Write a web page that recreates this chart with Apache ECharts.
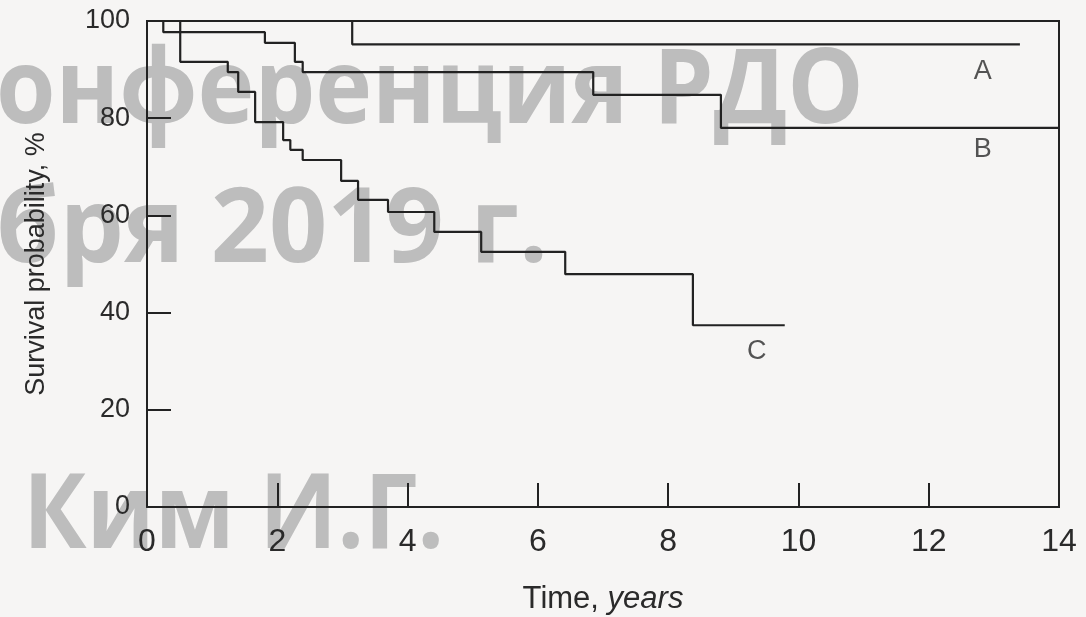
<!DOCTYPE html>
<html>
<head>
<meta charset="utf-8">
<script src="https://cdn.jsdelivr.net/npm/echarts@6/dist/echarts.min.js"></script>
<style>
html,body{margin:0;padding:0;background:#f6f5f4;}
#chart{width:1086px;height:617px;}
</style>
</head>
<body>
<div id="chart"></div>
<script>
// Kaplan-Meier step data (time in years, survival %)
const aTimes = [0, 3.15, 13.4];
const aSurv  = [100, 95.2, 95.2];
const bTimes = [0, 0.25, 1.81, 2.27, 2.39, 6.85, 8.81, 14];
const bSurv  = [100, 97.7, 95.5, 91.6, 89.5, 84.8, 78.0, 78.0];
const cTimes = [0, 0.51, 1.24, 1.40, 1.66, 2.09, 2.20, 2.39, 2.98, 3.24, 3.70, 4.41, 5.13, 6.42, 8.38, 9.79];
const cSurv  = [100, 91.6, 89.5, 85.4, 79.2, 75.5, 73.5, 71.4, 67.1, 63.2, 60.7, 56.6, 52.5, 47.9, 37.4, 37.4];
const curveNames = ['A', 'B', 'C'];
const labelTimes = [12.83, 12.83, 9.36];
const labelSurv  = [89.5, 73.5, 31.9];
const xTicks = [0, 2, 4, 6, 8, 10, 12, 14];
const yTicks = [0, 20, 40, 60, 80, 100];
const xTitle = ['Time, ', 'years'];
const yTitle = 'Survival probability, %';
const watermark = ['онференция РДО', 'бря 2019 г.', 'Ким И.Г.'];

const zip = (t, s) => t.map((v, i) => [v, s[i]]);
const ink = '#222222';
const textInk = '#2a2a2a';
const wmFont = 'bold 104px "Open Sans"';
const wmFill = '#bdbdbd';

const chart = echarts.init(document.getElementById('chart'));
const lineSeries = (name, t, s) => ({
  name, type: 'line', step: 'end', data: zip(t, s),
  symbol: 'none', lineStyle: { color: ink, width: 2.2 }, z: 3, silent: true
});

chart.setOption({
  backgroundColor: '#f6f5f4',
  animation: false,
  graphic: [
    { type: 'text', x: -4, y: 41, scaleX: 0.925, z: 0, style: { text: watermark[0], fill: wmFill, font: wmFont } },
    { type: 'text', x: -4, y: 180, scaleX: 0.98, z: 0, style: { text: watermark[1], fill: wmFill, font: wmFont } },
    { type: 'text', x: 23, y: 466, scaleX: 0.91, z: 0, style: { text: watermark[2], fill: wmFill, font: wmFont } }
  ],
  grid: { left: 147, right: 27, top: 21, bottom: 110, outerBoundsMode: 'none', containLabel: false,
    show: true, borderColor: ink, borderWidth: 2, backgroundColor: 'transparent' },
  xAxis: {
    type: 'value', min: 0, max: 14, interval: 2,
    axisLine: { show: true, onZero: false, lineStyle: { color: ink, width: 2 } },
    axisTick: { show: true, inside: true, length: 24, lineStyle: { color: ink, width: 2 },
      customValues: xTicks.slice(1, -1) },
    splitLine: { show: false },
    axisLabel: { color: textInk, fontSize: 32, fontFamily: '"Liberation Sans Narrow", "Liberation Sans", sans-serif', margin: 19,
      customValues: xTicks },
    name: '{a|' + xTitle[0] + '}{b|' + xTitle[1] + '}',
    nameLocation: 'middle', nameGap: 77,
    nameTextStyle: {
      rich: {
        a: { fontSize: 31, color: textInk, fontFamily: '"Liberation Sans Narrow", "Liberation Sans", sans-serif' },
        b: { fontSize: 31, color: textInk, fontStyle: 'italic', fontFamily: '"Liberation Sans Narrow", "Liberation Sans", sans-serif' }
      }
    }
  },
  yAxis: {
    type: 'value', min: 0, max: 100, interval: 20,
    axisLine: { show: true, onZero: false, lineStyle: { color: ink, width: 2 } },
    axisTick: { show: true, inside: true, length: 24, lineStyle: { color: ink, width: 2 },
      customValues: yTicks.slice(1, -1) },
    splitLine: { show: false },
    axisLabel: { color: textInk, fontSize: 27, fontFamily: '"Liberation Sans", Arial, sans-serif', margin: 17,
      customValues: yTicks },
    name: yTitle, nameLocation: 'middle', nameGap: 97,
    nameTextStyle: { color: textInk, fontSize: 27, fontFamily: '"Liberation Sans", Arial, sans-serif' }
  },
  series: [
    lineSeries('A', aTimes, aSurv),
    lineSeries('B', bTimes, bSurv),
    lineSeries('C', cTimes, cSurv),
    {
      type: 'scatter', symbolSize: 0, z: 4, silent: true,
      data: curveNames.map((n, i) => ({ value: [labelTimes[i], labelSurv[i]], name: n })),
      label: { show: true, position: 'inside', formatter: p => p.name, color: textInk, fontSize: 27,
        fontFamily: '"Liberation Sans", Arial, sans-serif' }
    }
  ]
});
</script>
</body>
</html>
